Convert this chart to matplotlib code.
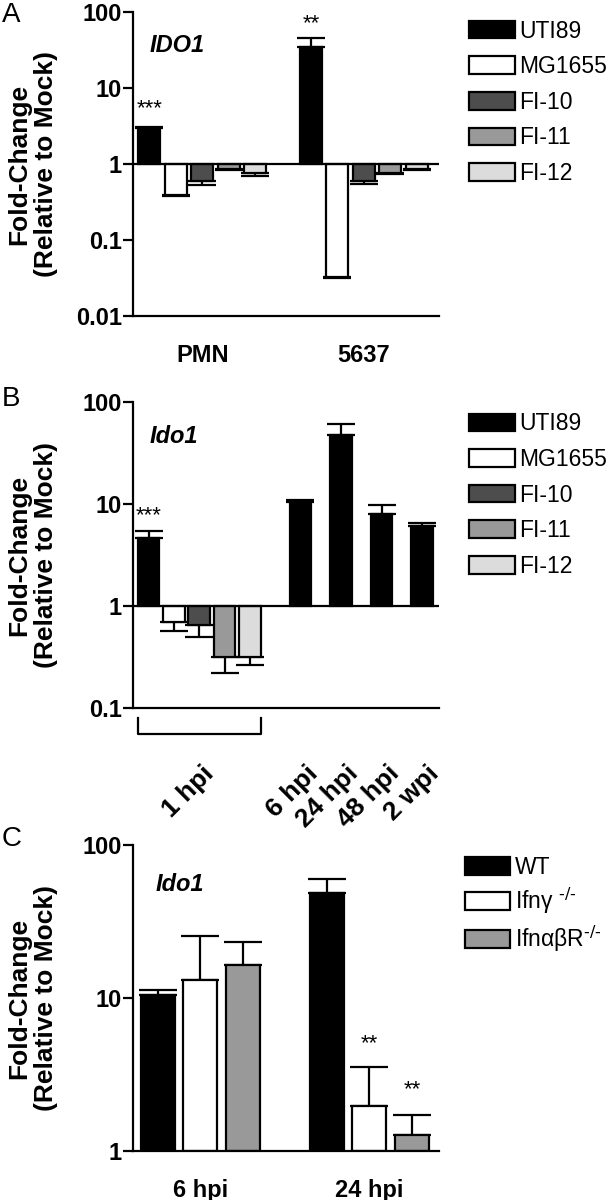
import numpy as np
import matplotlib.pyplot as plt
from matplotlib.patches import Patch
from matplotlib.ticker import FixedLocator, NullLocator

plt.rcParams['font.family'] = ['Liberation Sans', 'DejaVu Sans']

# panel A: IDO1 in PMN and 5637 cells
strains = ['UTI89', 'MG1655', 'FI-10', 'FI-11', 'FI-12']
strain_colors = ['#000000', '#ffffff', '#4d4d4d', '#999999', '#dcdcdc']
cellsA = ['PMN', '5637']
meanA_pmn = [3.0, 0.385, 0.605, 0.86, 0.75]
tipA_pmn = [3.05, 0.38, 0.53, 0.84, 0.70]
meanA_5637 = [34.5, 0.033, 0.605, 0.76, 0.86]
tipA_5637 = [45.0, 0.032, 0.55, 0.74, 0.84]

# panel B: Ido1 in vivo
meanB_1hpi = [4.65, 0.70, 0.66, 0.32, 0.32]
tipB_1hpi = [5.4, 0.57, 0.50, 0.22, 0.265]
timesB = ['6 hpi', '24 hpi', '48 hpi', '2 wpi']
meanB_late = [10.4, 47.6, 8.05, 6.05]
tipB_late = [10.8, 60.4, 9.85, 6.5]

# panel C: knockout mice
genotypes = ['WT', r'Ifnγ $^{\text{-/-}}$', r'IfnαβR$^{\text{-/-}}$']
geno_colors = ['#000000', '#ffffff', '#999999']
timesC = ['6 hpi', '24 hpi']
meanC_6 = [10.4, 13.1, 16.4]
tipC_6 = [11.3, 25.4, 23.3]
meanC_24 = [48.3, 1.97, 1.27]
tipC_24 = [59.7, 3.52, 1.72]

LW = 1.6


def draw_bars(ax, x, means, tips, colors, width, capsize):
    means = np.array(means)
    tips = np.array(tips)
    ax.bar(x, means - 1, bottom=1, width=width, color=colors,
           edgecolor='black', linewidth=LW, zorder=2)
    up = np.where(means >= 1, tips - means, 0)
    lo = np.where(means < 1, means - tips, 0)
    ax.errorbar(x, means, yerr=[lo, up], fmt='none', ecolor='black',
                elinewidth=LW, capsize=capsize, capthick=LW, zorder=1)


def style_axis(ax, ticks, labels, ymin, ymax):
    ax.set_yscale('log')
    ax.set_ylim(ymin, ymax)
    ax.yaxis.set_major_locator(FixedLocator(ticks))
    ax.yaxis.set_minor_locator(NullLocator())
    ax.set_yticklabels(labels, fontsize=17, fontweight='bold')
    ax.tick_params(axis='y', length=7, width=LW, pad=1)
    ax.tick_params(axis='x', length=0)
    for s in ['top', 'right']:
        ax.spines[s].set_visible(False)
    for s in ['left', 'bottom']:
        ax.spines[s].set_linewidth(LW)
    ax.set_ylabel('Fold-Change\n(Relative to Mock)', fontsize=19,
                  fontweight='bold', linespacing=1.15)
    ax.yaxis.set_label_coords(-0.245, 0.5)


def add_legend(ax, colors, labels, anchor, spacing):
    handles = [Patch(facecolor=c, edgecolor='black', linewidth=LW) for c in colors]
    ax.legend(handles, labels, loc='upper left', bbox_to_anchor=anchor,
              frameon=False, fontsize=16.5, handlelength=1.97, handleheight=0.8,
              handletextpad=0.2, labelspacing=spacing, borderaxespad=0,
              borderpad=0)


fig = plt.figure(figsize=(6.12, 12), dpi=100)

# ---- A
axA = fig.add_axes([0.217, 0.7367, 0.5, 0.2533])
style_axis(axA, [0.01, 0.1, 1, 10, 100], ['0.01', '0.1', '1', '10', '100'], 0.01, 100)
xA1 = np.arange(5)
xA2 = np.arange(5) + 6.1
draw_bars(axA, xA1, meanA_pmn, tipA_pmn, strain_colors, 0.84, 10)
draw_bars(axA, xA2, meanA_5637, tipA_5637, strain_colors, 0.84, 10)
axA.axhline(1, color='black', lw=LW, zorder=3)
axA.set_xlim(-0.62, 10.93)
axA.set_xticks([xA1.mean(), xA2.mean()])
axA.set_xticklabels(cellsA, fontsize=17, fontweight='bold')
axA.tick_params(axis='x', pad=20)
axA.text(xA1[0], 5.4, '***', ha='center', va='center', fontsize=16)
axA.text(xA2[0], 71, '**', ha='center', va='center', fontsize=16)
axA.text(0.055, 0.889, 'IDO1', transform=axA.transAxes, fontsize=17,
         fontweight='bold', style='italic', va='center')
add_legend(axA, strain_colors, strains, (1.10, 0.975), 0.55)

# ---- B
axB = fig.add_axes([0.217, 0.4097, 0.5, 0.2556])
style_axis(axB, [0.1, 1, 10, 100], ['0.1', '1', '10', '100'], 0.1, 100)
xB1 = np.arange(5)
xB2 = 6 + 1.6 * np.arange(4)
draw_bars(axB, xB1, meanB_1hpi, tipB_1hpi, strain_colors, 0.86, 10)
draw_bars(axB, xB2, meanB_late, tipB_late, ['#000000'] * 4, 0.86, 10)
axB.axhline(1, color='black', lw=LW, zorder=3)
axB.set_xlim(-0.62, 11.46)
axB.set_xticks(np.concatenate([[xB1.mean() + 0.1], xB2 + 0.2]))
axB.set_xticklabels(['1 hpi'] + timesB, fontsize=19, fontweight='bold',
                    rotation=45, ha='right', rotation_mode='anchor')
axB.tick_params(axis='x', pad=38)
trB = axB.get_xaxis_transform()
axB.plot([xB1[0] - 0.43, xB1[0] - 0.43, xB1[-1] + 0.43, xB1[-1] + 0.43],
         [-0.031, -0.084, -0.084, -0.031], transform=trB, color='black',
         lw=LW, clip_on=False)
axB.text(xB1[0], 7.6, '***', ha='center', va='center', fontsize=16)
axB.text(0.055, 0.885, 'Ido1', transform=axB.transAxes, fontsize=17,
         fontweight='bold', style='italic', va='center')
add_legend(axB, strain_colors, strains, (1.10, 0.965), 0.55)

# ---- C
axC = fig.add_axes([0.217, 0.0408, 0.5, 0.255])
style_axis(axC, [1, 10, 100], ['1', '10', '100'], 1, 100)
xC1 = np.arange(3)
xC2 = np.arange(3) + 3.97
draw_bars(axC, xC1, meanC_6, tipC_6, geno_colors, 0.8, 14)
draw_bars(axC, xC2, meanC_24, tipC_24, geno_colors, 0.8, 14)
axC.set_xlim(-0.59, 6.6)
axC.set_xticks([xC1.mean(), xC2.mean()])
axC.set_xticklabels(timesC, fontsize=17, fontweight='bold')
axC.tick_params(axis='x', pad=20)
axC.text(xC2[1], 5.0, '**', ha='center', va='center', fontsize=16)
axC.text(xC2[2], 2.5, '**', ha='center', va='center', fontsize=16)
axC.text(0.075, 0.87, 'Ido1', transform=axC.transAxes, fontsize=17,
         fontweight='bold', style='italic', va='center')
add_legend(axC, geno_colors, genotypes, (1.085, 0.965), 0.32)

# panel letters
fig.text(0.003, 0.998, 'A', fontsize=20, va='top')
fig.text(0.003, 0.678, 'B', fontsize=20, va='top')
fig.text(0.003, 0.312, 'C', fontsize=20, va='top')

fig.savefig('out.png', dpi=100)
